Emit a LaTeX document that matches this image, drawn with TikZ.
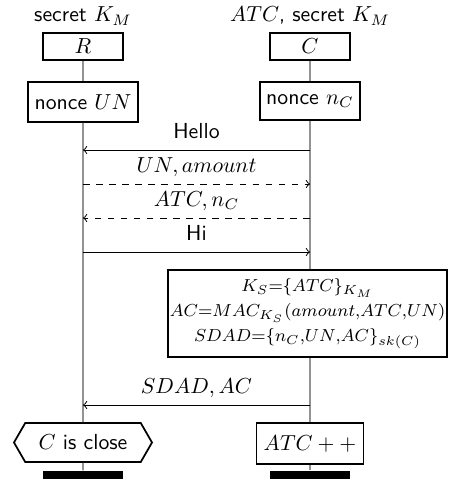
\documentclass[tikz,border=0pt]{standalone}
\usetikzlibrary{shapes.symbols}
\begin{document}
\begin{tikzpicture}[x=0.46pt,y=-0.46pt,
  every node/.style={font=\sffamily},
  inst/.style={draw,thick,minimum width=36.8pt,minimum height=12.4pt,inner sep=1pt},
  act/.style={draw,thick,inner sep=2pt},
  life/.style={draw=gray!85,line width=0.8pt},
  msg/.style={->,line width=0.45pt},
  dmsg/.style={->,line width=0.45pt,dashed},
  lbl/.style={inner sep=0pt},
  mlbl/.style={inner sep=0pt,midway,anchor=base,yshift=5.5pt},
  bar/.style={fill=black,minimum width=36.8pt,minimum height=3.8pt,inner sep=0pt}]
\useasboundingbox (0,0) rectangle (449,485);
% header labels
\node[lbl,anchor=base] (sR) at (83,22) {secret $K_M$};
\node[lbl,anchor=base] (sC) at (310,22) {$ATC$, secret $K_M$};
% instances
\node[inst] (R) at (83,46.5) {$R$};
\node[inst] (C) at (310,46.5) {$C$};
\node[act,minimum width=50.6pt,minimum height=18.4pt] (nR) at (83,102) {nonce $UN$};
\node[act,minimum width=46pt,minimum height=17.5pt] (nC) at (310,101) {nonce $n_C$};
% action box
\node[act,minimum width=124.7pt,minimum height=40pt,align=center,inner sep=1pt,
  font=\fontsize{8}{11.5}\selectfont] (ab) at (307.5,313.5)
  {$K_S{=}\{ATC\}_{K_M}$\\ $AC{=}MAC_{K_S}(amount{,}ATC{,}UN)$\\ $SDAD{=}\{n_C{,}UN{,}AC\}_{sk(C)}$};
% end conditions
\node[draw,thick,signal,signal to=west and east,signal pointer angle=120,
  minimum width=63.5pt,minimum height=18pt,inner sep=1pt] (hx) at (83,442.5) {$C$ is close};
\node[act,minimum width=49.2pt,minimum height=18.9pt] (atc) at (310,443.5) {$ATC++$};
\node[bar] (bR) at (83,475) {};
\node[bar] (bC) at (310,475) {};
% lifelines
\draw[life] (R) -- (nR);
\draw[life] (C) -- (nC);
\draw[life] (nR) -- (hx);
\draw[life] (hx) -- (bR);
\draw[life] (nC) -- (nC |- ab.north);
\draw[life] (nC |- ab.south) -- (atc);
\draw[life] (atc) -- (bC);
% message coordinates
\coordinate (c1) at (310,150); \coordinate (r1) at (83,150);
\coordinate (c2) at (310,184); \coordinate (r2) at (83,184);
\coordinate (c3) at (310,218); \coordinate (r3) at (83,218);
\coordinate (c4) at (310,252); \coordinate (r4) at (83,252);
\coordinate (c5) at (310,405); \coordinate (r5) at (83,405);
\draw[msg] (c1) -- node[mlbl] (m1) {Hello} (r1);
\draw[dmsg] (r2) -- node[mlbl] (m2) {$UN, amount$} (c2);
\draw[dmsg] (c3) -- node[mlbl] (m3) {$ATC, n_C$} (r3);
\draw[msg] (r4) -- node[mlbl] (m4) {Hi} (c4);
\draw[msg] (c5) -- node[mlbl] (m5) {$SDAD, AC$} (r5);
\end{tikzpicture}
\end{document}
